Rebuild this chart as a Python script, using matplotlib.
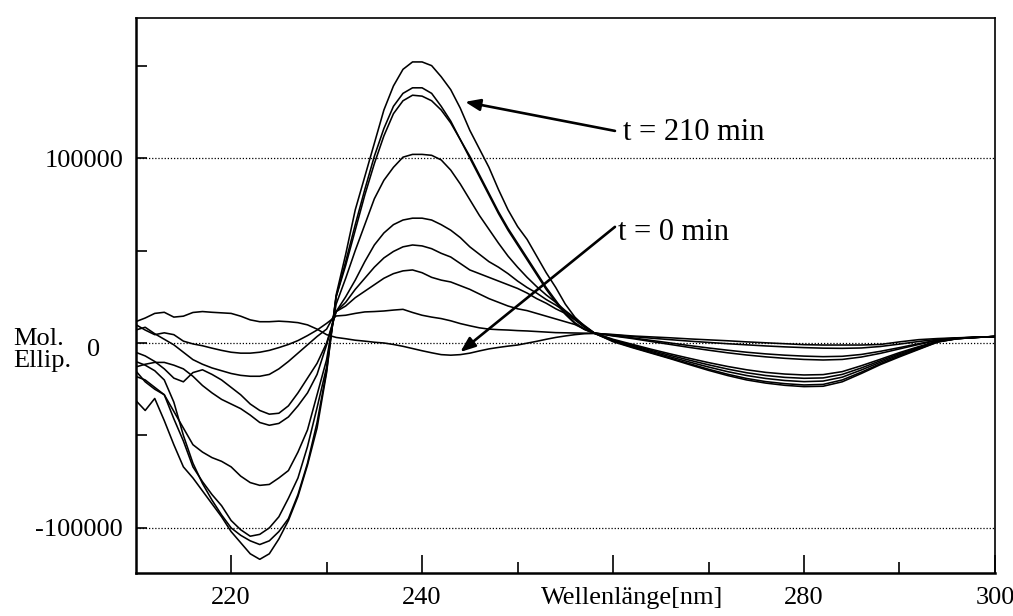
import matplotlib
matplotlib.use("Agg")
import matplotlib.pyplot as plt
import matplotlib.transforms as mtransforms
import numpy as np

plt.rcParams['font.family'] = ['Liberation Serif', 'DejaVu Serif']

# wavelength grid [nm]: 1 nm steps up to 258 nm, 2 nm steps afterwards
wavelength = list(range(210, 259)) + list(range(260, 301, 2))

# molar ellipticity in units of 1000, one spectrum per time point
t000 = [11.5, 13.5, 16, 16.6, 14, 14.5, 16.5, 17, 16.6, 16.3, 16, 14.5, 12.5, 11.5, 11.5, 11.8, 11.5, 11, 9.8, 7.5,
        4.5, 3.0, 2.3, 1.5, 1, 0.4, 0, -0.8, -1.8, -3, -4.2, -5.3, -6.3, -6.6, -6.3, -5.5, -4.3, -3.2, -2.4, -1.7,
        -1.1, -0.1, 0.9, 2, 3, 3.8, 4.5, 5, 5.2,
        4.6, 3.8, 3.3, 2.8, 2.2, 1.7, 1.2, 0.6, 0.1, -0.4, -0.9, -1.1, -1.1, -1.1, -0.8, 0.6, 1.8, 2.4, 2.8, 3.1, 3.4]
spec_a = [10, 7, 4.5, 5.5, 4.5, 1, -0.5, -1.5, -2.8, -4, -5, -5.5, -5.5, -5, -4, -2.5, -0.8, 1.3, 4, 7,
          10.6, 14.6, 15, 16, 16.8, 17, 17.3, 17.8, 18.2, 16.5, 15, 14, 13.2, 12, 10.5, 9.3, 8.2, 7.5, 7.2, 7,
          6.7, 6.5, 6.2, 5.9, 5.6, 5.5, 5.4, 5.3, 5.2,
          4.4, 3.5, 2.6, 1.8, 1.0, 0.3, -0.4, -1.0, -1.6, -2.1, -2.5, -2.8, -2.9, -2.7, -1.9, -0.6, 0.8, 2.0, 2.7, 3.1, 3.5]
spec_b = [7, 8.5, 5, 2, -1, -5, -9, -11.5, -13.5, -15, -16.5, -17.5, -18, -18, -17, -14, -10, -5.5, -1, 3.5,
          7.5, 17, 20, 24.5, 28, 31.5, 35, 37.5, 39, 39.5, 38, 35.5, 34, 33, 31, 29, 26.5, 24, 22, 20,
          18.5, 17.5, 16, 14.5, 13, 11.5, 10, 7.5, 5.5,
          4.0, 2.8, 1.4, 0, -1.4, -2.7, -3.9, -5, -5.9, -6.6, -7.1, -7.4, -7.2, -6.2, -4.5, -2.5, -0.4, 1.6, 2.6, 3.1, 3.5]
spec_c = [-5, -7, -10, -14, -19, -21, -16, -14.5, -17, -20, -24, -28, -33, -36.5, -38.5, -38, -34, -27, -19, -11,
          0, 17, 22, 29, 35, 41, 46, 49.5, 52, 53, 52.5, 51, 48.5, 46.5, 43, 39.5, 37.5, 35.5, 33.5, 31.5,
          29.5, 27, 24, 21.5, 18.5, 16, 12.5, 8.5, 5.4,
          3.8, 2.4, 0.8, -0.8, -2.4, -3.9, -5.3, -6.5, -7.5, -8.3, -8.9, -9.2, -8.9, -7.6, -5.6, -3.2, -0.8, 1.5, 2.6, 3.1, 3.5]
spec_d = [-13, -11.5, -10.5, -10.5, -12, -14, -18, -23, -27, -30.5, -33, -35.5, -39, -43, -44.5, -43.5, -40, -34, -27, -17,
          -1, 17, 25, 34, 44, 53, 59.5, 64, 66.5, 67.5, 67.5, 66.5, 64, 61, 57, 52, 48, 44, 41, 37.5,
          33.5, 30, 27, 23.5, 20.5, 17, 13, 9, 5.5,
          2, -0.7, -3.4, -5.9, -8.3, -10.6, -12.7, -14.5, -15.9, -16.8, -17.3, -17.1, -15.5, -12.3, -8.8, -5.2, -2, 1, 2.4, 3.0, 3.5]
spec_e = [-18, -20, -24, -28, -37, -46, -55, -59, -62, -64, -67, -72, -75.5, -77, -76.5, -73, -69, -59, -47, -28,
          -9, 21, 35, 50, 64, 78, 88, 95, 100.5, 102, 102, 101.5, 99, 93.5, 86, 77.5, 69, 61.5, 54, 47,
          41, 35.5, 30.5, 26, 22, 17.5, 13.5, 9.5, 5.6,
          1.6, -1.2, -4, -6.7, -9.3, -11.8, -14.1, -16.1, -17.6, -18.6, -19.1, -18.9, -17, -13.5, -9.6, -5.8, -2.4, 0.9, 2.4, 3.0, 3.5]
spec_f = [-15, -21, -25, -28, -41, -53, -67, -75, -82, -88, -96, -101, -104.5, -103.5, -100, -94, -84, -73, -56, -35,
          -13, 25, 42, 61, 80, 97, 112, 124, 131, 134, 133.5, 131, 126, 119, 110, 100, 90, 80, 70, 61,
          53, 45, 37, 29, 22, 15.5, 10.5, 7.3, 5.3,
          1.3, -1.7, -4.6, -7.5, -10.3, -13, -15.5, -17.6, -19.2, -20.3, -20.9, -20.6, -18.5, -14.6, -10.4, -6.4, -2.8, 0.7, 2.3, 3.0, 3.5]
spec_g = [-10, -12, -15, -20, -32, -50, -65, -76, -85, -93, -100, -104, -107, -109, -107, -102, -95, -82, -65, -43,
          -15, 25, 44, 64, 83, 101, 116, 128, 135, 138, 138, 135, 128, 120, 110, 101, 91, 81, 71, 62,
          54, 46, 38, 30, 23, 16, 11, 7.5, 5.3,
          1.0, -2.2, -5.2, -8.2, -11.2, -14.2, -16.9, -19.2, -20.9, -22, -22.7, -22.4, -20, -15.8, -11.2, -7, -3.2, 0.6, 2.3, 3.0, 3.5]
t210 = [-31, -36.5, -30, -42, -55, -67, -73, -80, -87, -94, -102, -108, -114, -117, -114, -106, -96, -83, -66, -46,
        -16, 26, 48, 72, 90, 108, 126, 139, 148, 152, 152, 150, 144, 137, 127, 115, 105, 95, 83, 72,
        63, 56, 47, 38, 30, 21, 14, 9, 5.5,
        0.7, -2.5, -5.5, -8.5, -11.7, -14.8, -17.6, -20, -21.7, -22.9, -23.6, -23.4, -21, -16.5, -11.7, -7.5, -3.5, 0.5, 2.3, 3.0, 3.5]

spectra = [t000, spec_a, spec_b, spec_c, spec_d, spec_e, spec_f, spec_g, t210]

x_major = [220, 240, 260, 280, 300]
x_major_labels = ['220', '240', '', '280', '300']
x_minor = [230, 250, 270, 290]
y_major = [-100000, 0, 100000]
y_major_labels = ['-100000', '', '100000']
y_minor = [-50000, 50000, 150000]

fig = plt.figure(figsize=(10.13, 6.16), dpi=100)
ax = fig.add_axes([0.1339, 0.0698, 0.8483, 0.9002])

for spec in spectra:
    ax.plot(wavelength, np.array(spec) * 1000.0, color='black', lw=1.15, solid_joinstyle='round')

ax.set_xlim(210, 300)
ax.set_ylim(-124400, 175500)

ax.set_xticks(x_major)
ax.set_xticklabels(x_major_labels)
ax.set_xticks(x_minor, minor=True)
ax.set_yticks(y_major)
ax.set_yticklabels(y_major_labels)
ax.set_yticks(y_minor, minor=True)

ax.tick_params(axis='x', which='major', direction='in', length=13, width=1.2, pad=10, labelsize=19)
ax.tick_params(axis='x', which='minor', direction='in', length=8, width=1.2)
ax.tick_params(axis='y', which='both', direction='in', length=8, width=1.2, pad=9, labelsize=19)

ax.grid(axis='y', which='major', linestyle=(0, (1, 1.5)), lw=0.9, color='black')

for side in ['left', 'bottom']:
    ax.spines[side].set_linewidth(1.8)
for side in ['top', 'right']:
    ax.spines[side].set_linewidth(1.2)

# axis captions
below_axis = ax.get_xaxis_transform() + mtransforms.ScaledTranslation(0, -10 / 72, fig.dpi_scale_trans)
ax.text(262.0, 0, 'Wellenlänge[nm]', transform=below_axis, ha='center', va='top', fontsize=19)
fig.text(13 / 1013, 1 - 350 / 616, 'Mol.\nEllip.', ha='left', va='center', fontsize=19, linespacing=1.05)
fig.text(94 / 1013, 1 - 350 / 616, '0', ha='center', va='center', fontsize=19)

# time annotations
arrow = dict(arrowstyle='-|>,head_length=0.9,head_width=0.35', color='black', lw=1.9,
             shrinkA=0, shrinkB=0)
ax.annotate('', xy=(244.5, 130400), xytext=(260.2, 114700), arrowprops=arrow)
ax.text(261.0, 109800, 't = 210 min', ha='left', va='baseline', fontsize=22)
ax.annotate('', xy=(244.0, -4900), xytext=(260.2, 62800), arrowprops=arrow)
ax.text(260.5, 55700, 't = 0 min', ha='left', va='baseline', fontsize=22)

fig.savefig('out.png', dpi=100)
